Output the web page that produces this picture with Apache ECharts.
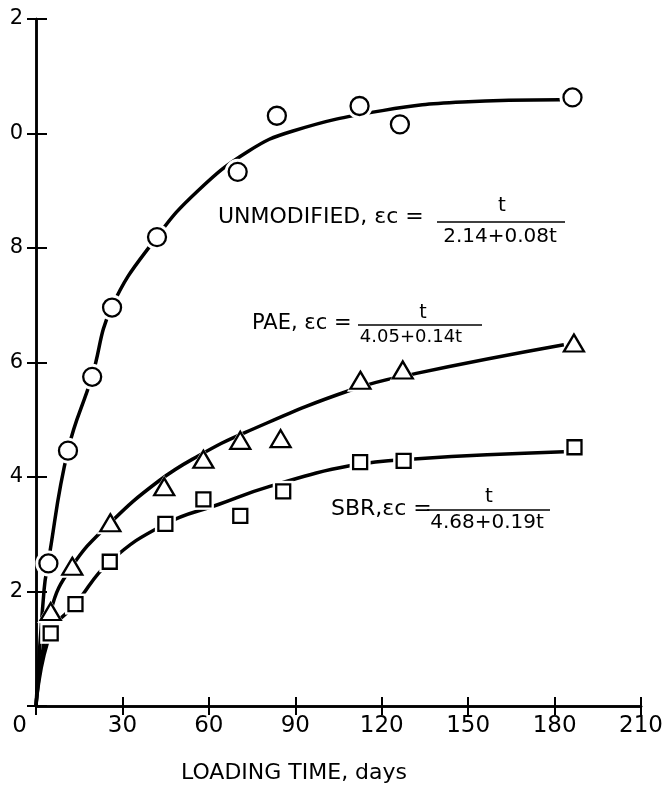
<!DOCTYPE html>
<html>
<head>
<meta charset="utf-8">
<script src="https://cdn.jsdelivr.net/npm/echarts@6/dist/echarts.min.js"></script>
<style>
html,body{margin:0;padding:0;background:#fff;}
#chart{width:666px;height:788px;}
</style>
</head>
<body>
<div id="chart"></div>
<script>
// ---- data ----
const unmodT = [4.3, 11.1, 19.5, 26.4, 42.0, 70.0, 83.6, 112.3, 126.3, 186.2];
const unmodE = [2.49, 4.46, 5.75, 6.96, 8.19, 9.33, 10.31, 10.48, 10.16, 10.63];
const paeT = [5.1, 12.6, 25.8, 44.5, 58.1, 70.9, 84.9, 112.6, 127.3, 186.7];
const paeE = [1.65, 2.44, 3.20, 3.83, 4.31, 4.64, 4.67, 5.69, 5.87, 6.34];
const sbrT = [5.1, 13.7, 25.6, 44.9, 58.1, 70.9, 85.8, 112.5, 127.6, 186.9];
const sbrE = [1.27, 1.78, 2.52, 3.18, 3.61, 3.32, 3.75, 4.26, 4.28, 4.52];

// fitted curves
const unmodCurveT = [0, 2.8, 4.2, 11.1, 19.4, 26.3, 41.9, 56.4, 73.7, 88.9, 120.2, 148.1, 181.9];
const unmodCurveE = [0, 2.03, 2.5, 4.47, 5.75, 6.97, 8.19, 9.01, 9.69, 10.04, 10.40, 10.55, 10.59];
const paeCurveT = [0, 5.1, 12.5, 25.8, 42.6, 56.4, 72.7, 109.3, 132.0, 183.2];
const paeCurveE = [0, 1.65, 2.44, 3.20, 3.93, 4.37, 4.78, 5.52, 5.81, 6.31];
const sbrCurveT = [0, 5.1, 13.7, 25.6, 44.9, 63.3, 81.4, 109.3, 132.5, 183.2];
const sbrCurveE = [0, 1.27, 1.78, 2.52, 3.18, 3.52, 3.84, 4.20, 4.32, 4.44];

// tick labels (as printed; leading digits of 12 and 10 are cropped in the reference)
const xTicks = [0, 30, 60, 90, 120, 150, 180, 210];
const xTickLabels = ['0', '30', '60', '90', '120', '150', '180', '210'];
const yTicks = [0, 2, 4, 6, 8, 10, 12];
const yTickLabels = ['', '2', '4', '6', '8', '0', '2'];

const zip = (a, b) => a.map((v, i) => [v, b[i]]);

const chart = echarts.init(document.getElementById('chart'), null, {renderer: 'canvas'});

const axisLine = {show: true, lineStyle: {color: '#000', width: 2.5}};
const tickIn = {show: true, inside: true, length: 9, lineStyle: {color: '#000', width: 2}};

function curve(t, e) {
  return {
    type: 'line', data: zip(t, e), symbol: 'none', smooth: 0.45,
    lineStyle: {color: '#000', width: 3.5}, z: 2, silent: true
  };
}
function halo(t, e, sym, size) {
  return {
    type: 'scatter', data: zip(t, e), symbol: sym, symbolSize: size,
    itemStyle: {color: '#fff', borderWidth: 0, opacity: 1}, z: 3, silent: true
  };
}
function marks(t, e, sym, size) {
  return {
    type: 'scatter', data: zip(t, e), symbol: sym, symbolSize: size,
    itemStyle: {color: '#fff', borderColor: '#000', borderWidth: 2.3, opacity: 1}, z: 4, silent: true
  };
}

const annFont = '"DejaVu Sans", sans-serif';

const option = {
  backgroundColor: '#fff',
  animation: false,
  grid: {left: 36, right: 22, top: 19, bottom: 82},
  xAxis: [{
    type: 'value', min: 0, max: 210, interval: 30, position: 'bottom',
    axisLine: axisLine, axisTick: tickIn, splitLine: {show: false},
    axisLabel: {
      margin: 9, color: '#000', fontSize: 23, fontFamily: annFont,
      formatter: v => {
        const s = xTickLabels[xTicks.indexOf(v)] || '';
        return v === 0 ? '{z|' + s + '}' : s;
      },
      rich: {z: {fontSize: 23, fontFamily: annFont, color: '#000', padding: [0, 33, 0, 0]}}
    }
  }, {
    type: 'value', min: 0, max: 210, interval: 30, position: 'top',
    axisLine: axisLine, axisTick: tickIn, splitLine: {show: false}, axisLabel: {show: false}
  }],
  yAxis: [{
    type: 'value', min: 0, max: 12, interval: 2, position: 'left',
    axisLine: axisLine, axisTick: Object.assign({}, tickIn, {length: 11}), splitLine: {show: false},
    axisLabel: {
      margin: 13, color: '#000', fontSize: 21, fontFamily: annFont,
      formatter: v => yTickLabels[yTicks.indexOf(v)] || ''
    }
  }, {
    type: 'value', min: 0, max: 12, interval: 2, position: 'right',
    axisLine: axisLine, axisTick: tickIn, splitLine: {show: false}, axisLabel: {show: false}
  }],
  series: [
    curve(unmodCurveT, unmodCurveE),
    curve(paeCurveT, paeCurveE),
    curve(sbrCurveT, sbrCurveE),
    halo(unmodT, unmodE, 'circle', 26),
    halo(paeT, paeE, 'triangle', [27, 23]),
    halo(sbrT, sbrE, 'rect', 21),
    marks(unmodT, unmodE, 'circle', 18),
    marks(paeT, paeE, 'triangle', [20, 17]),
    marks(sbrT, sbrE, 'rect', 14)
  ],
  graphic: [
    // UNMODIFIED equation
    {type: 'text', left: 218, top: 206, style: {text: 'UNMODIFIED, εc =', font: '22px ' + annFont, fill: '#000'}},
    {type: 'line', shape: {x1: 437, y1: 222, x2: 565, y2: 222}, style: {stroke: '#000', lineWidth: 1.6}},
    {type: 'text', x: 502, y: 206, style: {text: 't', font: '20px ' + annFont, fill: '#000', align: 'center', verticalAlign: 'middle'}},
    {type: 'text', x: 500, y: 237, style: {text: '2.14+0.08t', font: '20px ' + annFont, fill: '#000', align: 'center', verticalAlign: 'middle'}},
    // PAE equation
    {type: 'text', left: 252, top: 313, style: {text: 'PAE, εc =', font: '21px ' + annFont, fill: '#000'}},
    {type: 'line', shape: {x1: 358, y1: 325, x2: 482, y2: 325}, style: {stroke: '#000', lineWidth: 1.6}},
    {type: 'text', x: 423, y: 313, style: {text: 't', font: '19px ' + annFont, fill: '#000', align: 'center', verticalAlign: 'middle'}},
    {type: 'text', x: 411, y: 337, style: {text: '4.05+0.14t', font: '18px ' + annFont, fill: '#000', align: 'center', verticalAlign: 'middle'}},
    // SBR equation
    {type: 'text', left: 331, top: 498, style: {text: 'SBR,εc =', font: '22px ' + annFont, fill: '#000'}},
    {type: 'line', shape: {x1: 427, y1: 510, x2: 550, y2: 510}, style: {stroke: '#000', lineWidth: 1.6}},
    {type: 'text', x: 489, y: 497, style: {text: 't', font: '20px ' + annFont, fill: '#000', align: 'center', verticalAlign: 'middle'}},
    {type: 'text', x: 487, y: 523, style: {text: '4.68+0.19t', font: '20px ' + annFont, fill: '#000', align: 'center', verticalAlign: 'middle'}},
    // x-axis title
    {type: 'text', x: 294, y: 773, style: {text: 'LOADING TIME, days', font: '22px ' + annFont, fill: '#000', align: 'center', verticalAlign: 'middle'}}
  ]
};
chart.setOption(option);
</script>
</body>
</html>
